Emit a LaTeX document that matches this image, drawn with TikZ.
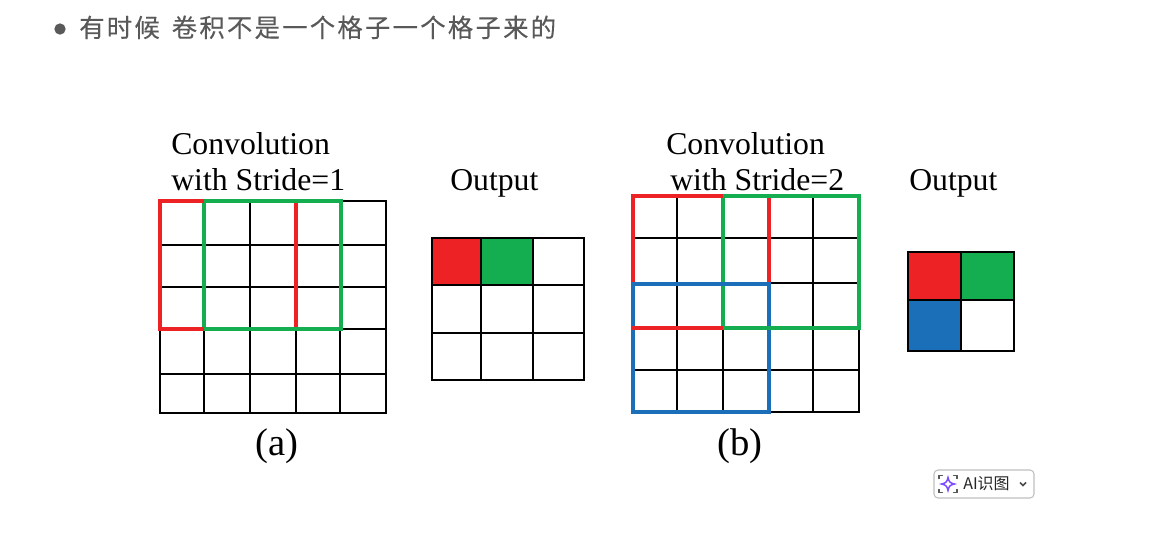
\documentclass[tikz,border=0pt]{standalone}
\usepackage{fontspec}
\setmainfont{Liberation Serif}
\newfontfamily\cjk{Noto Sans CJK SC}
\newfontfamily\cjkspaziato[LetterSpace=9,FakeBold=0.25]{Noto Sans CJK SC}
\usepackage{tikz}
\usetikzlibrary{positioning}
\definecolor{rosso}{HTML}{ED2224}
\definecolor{verde}{HTML}{14AD50}
\definecolor{azzurro}{HTML}{1B6FB9}
\definecolor{grigio}{HTML}{595959}
\definecolor{viola}{HTML}{7C4DFF}

\begin{document}
\begin{tikzpicture}[
  x=0.75pt, y=-0.75pt,
  griglia/.style={draw=black, line width=0.9pt},
  bordo/.style={draw=black, line width=1.3pt},
  cornice/.style={line width=3.7pt},
  etichetta/.style={anchor=base west, inner sep=0pt, font=\fontsize{23.8}{24}\selectfont},
  lettera/.style={anchor=base west, inner sep=0pt, font=\fontsize{29}{29}\selectfont},
  titolo/.style={anchor=base west, inner sep=0pt, text=grigio, font=\fontsize{19}{20}\selectfont\cjkspaziato},
  icona/.style={draw=black!65, line width=1.1pt}
]
\useasboundingbox (0,0) rectangle (1175,544);

% Titolo
\node[circle, fill=grigio, inner sep=0pt, minimum size=8.5pt] (punto) at (60,29) {};
\node[titolo] (titolo) at (79,37) {有时候\hspace{3pt} 卷积不是一个格子一个格子来的};

% Griglia (a)
\draw[griglia] (204,201) -- (204,413) (250,201) -- (250,413) (296,201) -- (296,413) (340,201) -- (340,413);
\draw[griglia] (160,245) -- (386,245) (160,287) -- (386,287) (160,329) -- (386,329) (160,374) -- (386,374);
\draw[bordo] (160,201) rectangle (386,413);

% Finestre (a)
\draw[cornice, rosso] (160,201) rectangle (296,329);
\draw[cornice, verde] (204,201) rectangle (341,329);
\draw[cornice, rosso, line cap=butt] (158,329) -- (204,329);
\draw[cornice, rosso, line cap=butt] (158,201) -- (204,201);

% Uscita (a)
\fill[rosso] (432,238) rectangle (481,285);
\fill[verde] (481,238) rectangle (533,285);
\draw[griglia] (481,238) -- (481,380) (533,238) -- (533,380) (432,285) -- (584,285) (432,333) -- (584,333);
\draw[griglia] (432,238) rectangle (584,380);

% Griglia (b)
\draw[griglia] (677,196) -- (677,412) (723,196) -- (723,412) (769,196) -- (769,412) (813,196) -- (813,412);
\draw[griglia] (633,238) -- (859,238) (633,283) -- (859,283) (633,328) -- (859,328) (633,370) -- (859,370);
\draw[bordo] (633,196) rectangle (859,412);

% Finestre (b)
\draw[cornice, rosso] (633,196) rectangle (769,328);
\draw[cornice, verde] (723,196) rectangle (859,328);
\draw[cornice, azzurro] (633,284) rectangle (769,412);
\draw[cornice, rosso, line cap=butt] (631,328) -- (723,328);
\draw[cornice, verde, line cap=butt] (723,328) -- (859,328);
\draw[cornice, rosso, line cap=butt] (631,196) -- (723,196);

% Uscita (b)
\fill[rosso] (908,252) rectangle (961,300);
\fill[verde] (961,252) rectangle (1014,300);
\fill[azzurro] (908,300) rectangle (961,351);
\draw[griglia] (961,252) -- (961,351) (908,300) -- (1014,300);
\draw[griglia] (908,252) rectangle (1014,351);

% Etichette
\node[etichetta] (conva) at (171,154) {Convolution};
\node[etichetta] (passoa) at (171,190) {with Stride=1};
\node[etichetta] (uscitaa) at (450,190) {Output};
\node[lettera] (lettera-a) at (255,455) {(a)};
\node[etichetta] (convb) at (666,154) {Convolution};
\node[etichetta] (passob) at (670,190) {with Stride=2};
\node[etichetta] (uscitab) at (909,190) {Output};
\node[lettera] (lettera-b) at (717,455) {(b)};

% Pulsante
\draw[draw=black!25, line width=0.8pt, fill=white, rounded corners=3pt] (934,470) rectangle (1034,498);
\draw[icona] (939,479) -- (939,475.5) -- (943,475.5) (953,475.5) -- (957,475.5) -- (957,479);
\draw[icona] (939,489) -- (939,492.5) -- (943,492.5) (953,492.5) -- (957,492.5) -- (957,489);
\draw[draw=viola, line width=1.1pt] (948,477.5) .. controls (949,482) and (950,483) .. (954.5,484)
  .. controls (950,485) and (949,486) .. (948,490.5) .. controls (947,486) and (946,485) .. (941.5,484)
  .. controls (946,483) and (947,482) .. (948,477.5) -- cycle;
\node[anchor=base west, inner sep=0pt, text=black!85, font=\fontsize{12}{12}\selectfont\cjk] (testoai) at (963,489.5) {AI识图};
\draw[draw=black!70, line width=1.1pt] (1020,482.5) -- (1023,485.5) -- (1026,482.5);

\end{tikzpicture}
\end{document}
